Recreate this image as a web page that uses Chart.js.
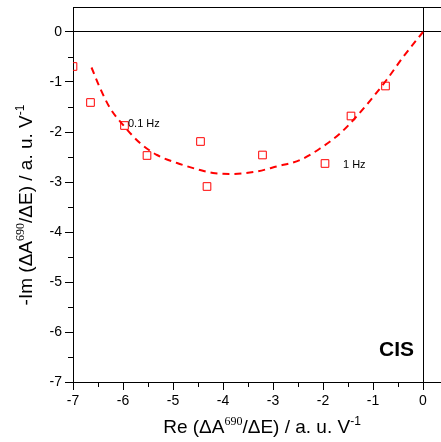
<!DOCTYPE html>
<html>
<head>
<meta charset="utf-8">
<script src="https://cdn.jsdelivr.net/npm/chart.js@4/dist/chart.umd.min.js"></script>
<style>
  html, body { margin: 0; padding: 0; background: #fff; }
  canvas { display: block; }
</style>
</head>
<body>
<canvas id="nyquist" width="441" height="442"></canvas>
<script>
// measured points (Re, -Im)
const reValues = [-7.0, -6.65, -5.97, -5.52, -4.45, -4.32, -3.21, -1.96, -1.44, -0.75];
const imValues = [-0.69, -1.41, -1.87, -2.47, -2.19, -3.09, -2.46, -2.63, -1.68, -1.08];

// dashed fit curve
const fitRe = [-6.63, -6.46, -6.26, -5.98, -5.66, -5.32, -4.92, -4.46, -4.2, -3.86, -3.33, -2.93, -2.46, -2.06, -1.66, -1.33, -0.99, -0.73, -0.39, 0];
const fitIm = [-0.71, -1.12, -1.52, -1.88, -2.22, -2.46, -2.62, -2.76, -2.82, -2.84, -2.79, -2.69, -2.56, -2.33, -2.03, -1.69, -1.29, -0.96, -0.49, 0];

const xMinorTicks = [-6.5, -5.5, -4.5, -3.5, -2.5, -1.5, -0.5];
const yMinorTicks = [-6.5, -5.5, -4.5, -3.5, -2.5, -1.5, -0.5];

const SANS = '"Liberation Sans", Arial, sans-serif';
const SERIF = '"Liberation Serif", "Times New Roman", serif';

const points = reValues.map((x, i) => ({ x: x, y: imValues[i] }));
const fitPoints = fitRe.map((x, i) => ({ x: x, y: fitIm[i] }));

function titleParts(first) {
  return [
    { text: first, font: '19px ' + SANS, dy: 0 },
    { text: '690', font: '12px ' + SERIF, dy: -8 },
    { text: '/\u0394E) / a. u. V', font: '19px ' + SANS, dy: 0 },
    { text: '-1', font: '12px ' + SANS, dy: -8 }
  ];
}

// draws a title made of pieces with superscripts, centred on cx
function drawRich(ctx, parts, cx, baseY) {
  let total = 0;
  parts.forEach(p => { ctx.font = p.font; total += ctx.measureText(p.text).width; });
  let x = cx - total / 2;
  ctx.textAlign = 'left';
  ctx.textBaseline = 'alphabetic';
  parts.forEach(p => {
    ctx.font = p.font;
    ctx.fillText(p.text, x, baseY + p.dy);
    x += ctx.measureText(p.text).width;
  });
}

const extrasPlugin = {
  id: 'extras',
  afterDraw(chart) {
    const ctx = chart.ctx;
    const area = chart.chartArea;
    const xs = chart.scales.x;
    const ys = chart.scales.y;
    ctx.save();
    ctx.strokeStyle = '#000';
    ctx.lineWidth = 1;

    // top frame line
    ctx.beginPath();
    ctx.moveTo(area.left, area.top + 0.5);
    ctx.lineTo(area.right, area.top + 0.5);
    ctx.stroke();

    // minor ticks
    ctx.beginPath();
    xMinorTicks.forEach(v => {
      const px = Math.round(xs.getPixelForValue(v)) + 0.5;
      ctx.moveTo(px, area.bottom);
      ctx.lineTo(px, area.bottom + 5);
    });
    yMinorTicks.forEach(v => {
      const py = Math.round(ys.getPixelForValue(v)) + 0.5;
      ctx.moveTo(area.left, py);
      ctx.lineTo(area.left - 5, py);
    });
    ctx.stroke();

    ctx.fillStyle = '#000';
    // axis titles
    drawRich(ctx, titleParts('Re (\u0394A'), 262, 433);
    ctx.save();
    ctx.translate(32, 205);
    ctx.rotate(-Math.PI / 2);
    drawRich(ctx, titleParts('-Im (\u0394A'), 0, 0);
    ctx.restore();

    // frequency labels
    ctx.font = '11px ' + SANS;
    ctx.textAlign = 'left';
    ctx.textBaseline = 'middle';
    ctx.fillText('0.1 Hz', 128, 124);
    ctx.fillText('1 Hz', 343, 165);

    ctx.font = 'bold 21px ' + SANS;
    ctx.textAlign = 'right';
    ctx.fillText('CIS', 414, 350);
    ctx.restore();
  }
};

const zeroLine = ctx => (ctx.tick && ctx.tick.value === 0) ? '#000' : 'rgba(0,0,0,0)';

new Chart(document.getElementById('nyquist'), {
  type: 'scatter',
  data: {
    datasets: [{
      label: 'fit',
      data: fitPoints,
      showLine: true,
      borderColor: '#ff0000',
      borderWidth: 2,
      borderDash: [7, 5],
      cubicInterpolationMode: 'monotone',
      pointRadius: 0,
      fill: false
    }, {
      label: 'data',
      data: points,
      showLine: false,
      pointStyle: 'rect',
      pointRadius: 5.4,
      pointBorderWidth: 1,
      pointBorderColor: '#ff0000',
      pointBackgroundColor: 'rgba(0,0,0,0)'
    }]
  },
  options: {
    responsive: false,
    animation: false,
    devicePixelRatio: 1,
    layout: { autoPadding: false, padding: { left: 0, top: 7, right: 0, bottom: 0 } },
    plugins: {
      legend: { display: false },
      tooltip: { enabled: false }
    },
    scales: {
      x: {
        type: 'linear',
        min: -7,
        max: 0.36,
        afterFit: s => { s.height = 60; s.paddingLeft = 0; s.paddingRight = 0; },
        ticks: {
          stepSize: 1,
          includeBounds: false,
          color: '#000',
          padding: 3,
          maxRotation: 0,
          font: { family: SANS, size: 14 }
        },
        grid: {
          color: zeroLine,
          tickColor: '#000',
          tickLength: 8
        },
        border: { display: true, color: '#000', width: 1 }
      },
      y: {
        type: 'linear',
        min: -7,
        max: 0.5,
        afterFit: s => { s.width = 73; s.paddingTop = 0; s.paddingBottom = 0; },
        ticks: {
          stepSize: 1,
          includeBounds: false,
          color: '#000',
          padding: 3,
          font: { family: SANS, size: 14 }
        },
        grid: {
          color: zeroLine,
          tickColor: '#000',
          tickLength: 8
        },
        border: { display: true, color: '#000', width: 1 }
      }
    }
  },
  plugins: [extrasPlugin]
});
</script>
</body>
</html>
